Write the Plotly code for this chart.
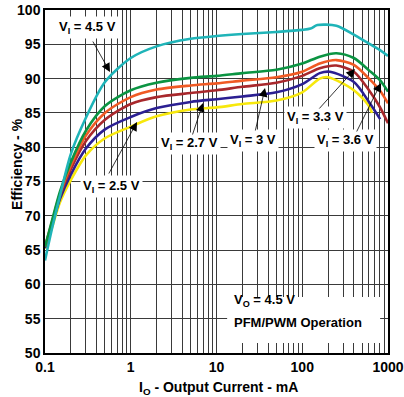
import numpy as np
import plotly.graph_objects as go

# ---- data ----
x_45 = [0.1, 0.12, 0.15, 0.2, 0.3, 0.5, 1, 2, 5, 10, 20, 50, 100, 125, 150, 250, 400, 600, 800, 1000]
y_45 = [63.5, 68.0, 73.0, 79.0, 84.3, 89.5, 93.0, 94.7, 95.8, 96.2, 96.5, 96.8, 97.1, 97.3, 97.8, 97.7, 96.4, 95.1, 94.2, 93.3]

x_36 = [0.1, 0.12, 0.15, 0.2, 0.3, 0.5, 1, 2, 5, 10, 20, 50, 100, 160, 250, 400, 600, 800, 1000]
y_36 = [65.5, 69.2, 73.6, 77.8, 82.4, 86.0, 88.3, 89.4, 90.1, 90.4, 90.8, 91.3, 92.2, 93.2, 93.7, 93.0, 91.2, 89.8, 88.1]

x_33 = [0.1, 0.12, 0.15, 0.2, 0.3, 0.5, 1, 2, 5, 10, 20, 50, 100, 160, 250, 400, 600, 800, 1000]
y_33 = [65.5, 69.0, 73.3, 77.3, 81.7, 85.0, 87.3, 88.4, 89.0, 89.3, 89.7, 90.2, 91.0, 92.2, 92.7, 92.0, 90.0, 88.3, 86.4]

x_30 = [0.1, 0.12, 0.15, 0.2, 0.3, 0.5, 1, 2, 5, 10, 20, 50, 100, 160, 250, 400, 600, 800, 1000]
y_30 = [65.5, 68.8, 73.0, 76.8, 80.9, 84.0, 86.3, 87.3, 87.9, 88.3, 88.8, 89.4, 90.4, 91.5, 91.9, 91.0, 88.3, 85.9, 83.5]

x_27 = [0.1, 0.12, 0.15, 0.2, 0.3, 0.5, 1, 2, 5, 10, 20, 50, 100, 160, 210, 400, 600, 810]
y_27 = [65.3, 68.5, 72.5, 76.0, 79.8, 82.6, 84.4, 85.7, 86.6, 87.0, 87.4, 88.0, 89.2, 90.8, 91.0, 89.5, 86.6, 84.1]

x_25 = [0.1, 0.12, 0.15, 0.2, 0.3, 0.5, 1, 2, 5, 10, 20, 50, 100, 160, 200, 400, 600, 650]
y_25 = [65.2, 68.2, 72.0, 75.2, 78.8, 81.3, 83.0, 84.5, 85.5, 85.8, 86.3, 86.8, 88.0, 90.0, 90.2, 88.3, 86.0, 85.0]

x_tick_vals = [0.1, 1, 10, 100, 1000]
x_tick_text = ["0.1", "1", "10", "100", "1000"]
y_tick_vals = [50, 55, 60, 65, 70, 75, 80, 85, 90, 95, 100]

series = [
    ("V_I = 4.5 V", x_45, y_45, "#1fb4b8"),
    ("V_I = 3.6 V", x_36, y_36, "#0b9442"),
    ("V_I = 3.3 V", x_33, y_33, "#f05a24"),
    ("V_I = 3 V", x_30, y_30, "#a8282c"),
    ("V_I = 2.7 V", x_27, y_27, "#2b1f92"),
    ("V_I = 2.5 V", x_25, y_25, "#f7e80c"),
]

minor_vals = [m * 10.0 ** e for e in range(-1, 3) for m in range(2, 10)]

fig = go.Figure()
for name, xs, ys, col in series[::-1]:
    fig.add_trace(go.Scatter(x=xs, y=ys, mode="lines", name=name, showlegend=False,
                             line=dict(color=col, width=2.6, shape="spline", smoothing=0.8)))

FONT = "Liberation Sans, Arial, sans-serif"
fig.update_layout(
    width=404, height=397,
    margin=dict(l=45, r=16, t=10, b=44),
    plot_bgcolor="white", paper_bgcolor="white",
    font=dict(family=FONT, size=14, color="black", weight="bold"),
)
grid = "#3a3a3a"
fig.update_xaxes(
    type="log", range=[-1, 3], tickvals=x_tick_vals, ticktext=x_tick_text,
    showgrid=True, gridcolor=grid, gridwidth=1,
    minor=dict(tickvals=minor_vals, showgrid=True, gridcolor=grid, gridwidth=1, ticks=""),
    showline=True, linecolor="black", linewidth=1.5, mirror=True, ticks="",
    zeroline=False, automargin=False,
)
fig.update_yaxes(
    range=[50, 100], tickvals=y_tick_vals,
    showgrid=True, gridcolor=grid, gridwidth=1,
    showline=True, linecolor="black", linewidth=1.5, mirror=True, ticks="",
    zeroline=False, automargin=False,
)

# axis titles as annotations for exact placement
fig.add_annotation(x=0.506, y=-0.102, xref="paper", yref="paper", yanchor="middle",
                   text="I<sub>O</sub> - Output Current - mA", showarrow=False,
                   font=dict(size=14, family=FONT, weight="bold"))
fig.add_annotation(x=-0.111, y=0.551, xref="paper", yref="paper", textangle=-90,
                   text="Efficiency - %", showarrow=False,
                   font=dict(size=14, family=FONT, weight="bold"))

# label text boxes (x in log10 units)
labels = [
    ("V<sub>I</sub> = 4.5 V", -0.499, 97.4),
    ("V<sub>I</sub> = 2.5 V", -0.22, 74.3),
    ("V<sub>I</sub> = 2.7 V", 0.69, 80.6),
    ("V<sub>I</sub> = 3 V", 1.43, 81.05),
    ("V<sub>I</sub> = 3.3 V", 2.149, 84.4),
    ("V<sub>I</sub> = 3.6 V", 2.499, 81.05),
]
for t, lx, ly in labels:
    fig.add_annotation(x=lx, y=ly, xref="x", yref="y", text=t, showarrow=False,
                       bgcolor="white", borderpad=2, font=dict(size=13, family=FONT, weight="bold"))

arrows = [
    (-0.242, 90.96, -18, -32),
    (0.073, 83.67, -29, 53),
    (0.843, 86.44, -11, 33),
    (1.566, 88.63, -10, 44),
    (2.615, 91.4, -37, 41),
    (2.918, 89.36, -25, 50),
]
for ax_, ay_, dx, dy in arrows:
    fig.add_annotation(x=ax_, y=ay_, xref="x", yref="y", text="", showarrow=True,
                       ax=dx, ay=dy, arrowhead=2, arrowsize=2.2, arrowwidth=0.8,
                       arrowcolor="black", standoff=0)

# operating-condition box
fig.add_shape(type="rect", xref="paper", yref="paper", x0=0.531, x1=0.977, y0=0.029, y1=0.163,
              fillcolor="white", line=dict(width=0), layer="above")
fig.add_annotation(x=0.545, y=0.122, xref="paper", yref="paper", xanchor="left",
                   text="V<sub>O</sub> = 4.5 V", showarrow=False,
                   font=dict(size=13, family=FONT, weight="bold"))
fig.add_annotation(x=0.545, y=0.061, xref="paper", yref="paper", xanchor="left",
                   text="PFM/PWM Operation", showarrow=False,
                   font=dict(size=13, family=FONT, weight="bold"))

fig.write_html("out.html", config={"displayModeBar": False},
               post_script="document.body.style.margin='0';document.body.style.padding='0';")
